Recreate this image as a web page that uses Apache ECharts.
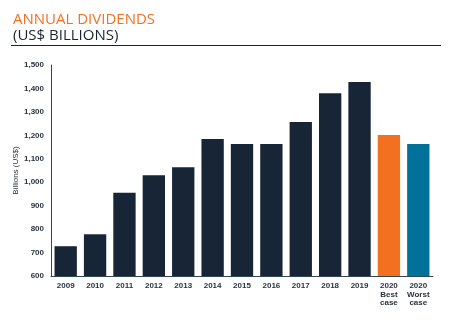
<!DOCTYPE html>
<html><head><meta charset="utf-8">
<script src="https://cdn.jsdelivr.net/npm/echarts@6/dist/echarts.min.js"></script>
<style>html,body{margin:0;padding:0;background:#fff}#c{width:461px;height:324px}</style>
</head><body><div id="c"></div>
<script>
const categories = ['2009','2010','2011','2012','2013','2014','2015','2016','2017','2018','2019','2020\nBest\ncase','2020\nWorst\ncase'];
const dividends = [727, 778, 955, 1030, 1064, 1184, 1163, 1163, 1257, 1380, 1427, 1201, 1163];
const barColors = ['#172536','#172536','#172536','#172536','#172536','#172536','#172536','#172536','#172536','#172536','#172536','#F37021','#00729A'];
const yTicks = {min: 600, max: 1500, interval: 100};

const chart = echarts.init(document.getElementById('c'));
chart.setOption({
  animation: false,
  title: {
    text: 'ANNUAL DIVIDENDS',
    subtext: '(US$ BILLIONS)',
    left: 8, top: 7,
    itemGap: 0,
    textStyle: {color: '#F37021', fontSize: 15, fontWeight: 'normal', fontFamily: 'Open Sans', lineHeight: 16},
    subtextStyle: {color: '#1b2333', fontSize: 15, fontFamily: 'Open Sans', lineHeight: 16}
  },
  graphic: [{type: 'line', shape: {x1: 11, y1: 45.5, x2: 441, y2: 45.5}, style: {stroke: '#1b2333', lineWidth: 1}}],
  grid: {left: 51, right: 28, top: 65, bottom: 48},
  xAxis: {
    type: 'category', data: categories,
    axisLine: {lineStyle: {color: '#2f4656', width: 1}},
    axisTick: {show: false},
    axisLabel: {color: '#2a3340', fontSize: 8, fontWeight: 'bold', fontFamily: 'Liberation Sans', lineHeight: 8.5, margin: 6, interval: 0}
  },
  yAxis: {
    type: 'value', min: yTicks.min, max: yTicks.max, interval: yTicks.interval,
    name: 'Billions (US$)', nameLocation: 'middle', nameGap: 31, nameRotate: 90,
    nameMoveOverlap: false,
    nameTextStyle: {color: '#2a3340', fontSize: 8, fontFamily: 'Liberation Sans'},
    axisLine: {show: true, lineStyle: {color: '#2f4656', width: 1}},
    axisTick: {show: false},
    splitLine: {show: false},
    axisLabel: {color: '#2a3340', fontSize: 8, fontWeight: 'bold', fontFamily: 'Liberation Sans', margin: 7,
      formatter: v => v.toLocaleString('en-US')}
  },
  series: [{
    type: 'bar', data: dividends.map((v, i) => ({value: v, itemStyle: {color: barColors[i]}})),
    barCategoryGap: '24%'
  }]
});
</script></body></html>
